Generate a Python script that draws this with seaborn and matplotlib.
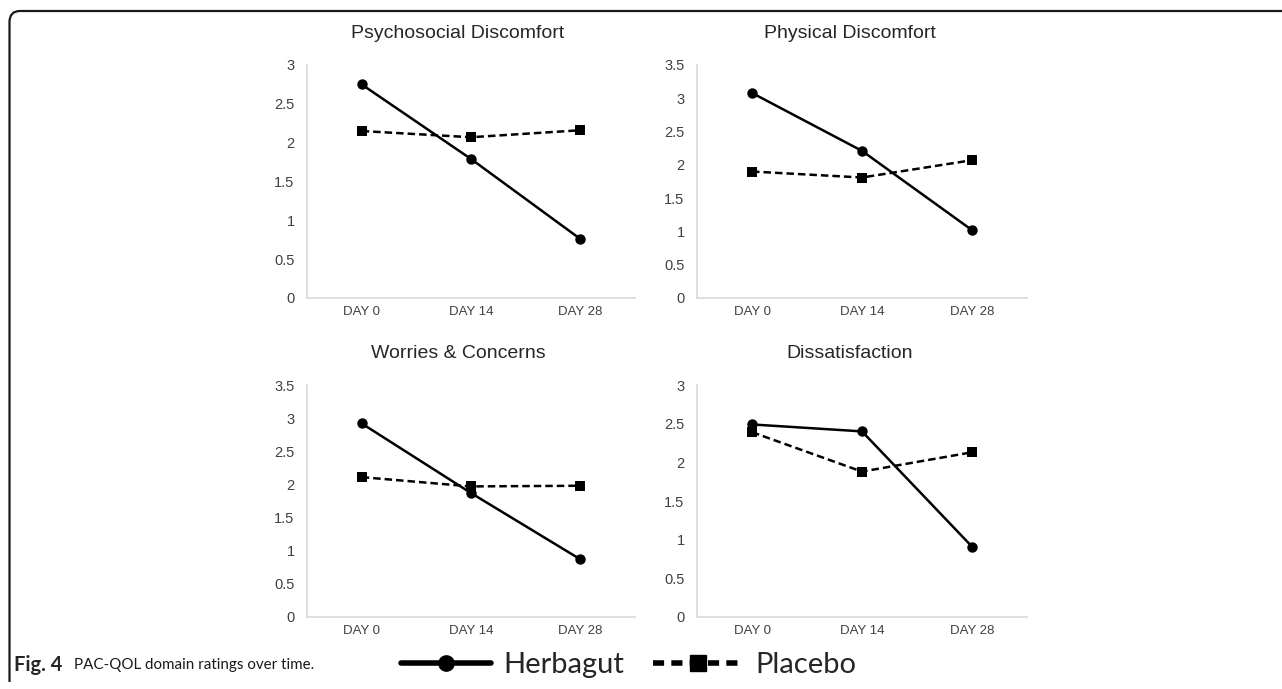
import numpy as np
import pandas as pd
import matplotlib
matplotlib.use("Agg")
import matplotlib.pyplot as plt
import seaborn as sns
from matplotlib.lines import Line2D
from matplotlib.path import Path
from matplotlib.patches import PathPatch

# ---------------- data ----------------
days = ["DAY 0", "DAY 14", "DAY 28"]
groups = ["Herbagut", "Placebo"]
titles = ["Psychosocial Discomfort", "Physical Discomfort",
          "Worries & Concerns", "Dissatisfaction"]
herbagut = {
    "Psychosocial Discomfort": [2.75, 1.79, 0.76],
    "Physical Discomfort": [3.08, 2.21, 1.02],
    "Worries & Concerns": [2.92, 1.87, 0.87],
    "Dissatisfaction": [2.49, 2.40, 0.91],
}
placebo = {
    "Psychosocial Discomfort": [2.15, 2.07, 2.16],
    "Physical Discomfort": [1.90, 1.81, 2.07],
    "Worries & Concerns": [2.11, 1.97, 1.98],
    "Dissatisfaction": [2.39, 1.88, 2.13],
}
y_max = {
    "Psychosocial Discomfort": 3.0,
    "Physical Discomfort": 3.5,
    "Worries & Concerns": 3.5,
    "Dissatisfaction": 3.0,
}
caption_bold = "Fig. 4"
caption_text = "PAC-QOL domain ratings over time."

# ---------------- figure ----------------
sns.set_theme(style="white")
plt.rcParams["font.family"] = ["Liberation Sans", "DejaVu Sans"]

W, H = 1282, 689
fig = plt.figure(figsize=(W / 100, H / 100), dpi=100)

def fx(px):
    return px / W

def fy(py):
    return 1 - py / H

# axes rectangles in pixel coords: (left, top, right, bottom)
rects = [
    (307, 65, 635, 298),
    (697, 65, 1027, 298),
    (307, 385, 635, 617),
    (697, 385, 1027, 617),
]
title_pos = [(458, 34), (850, 34), (458, 354), (850, 354)]

pal = {"Herbagut": "black", "Placebo": "black"}
markers = {"Herbagut": "o", "Placebo": "s"}
dashes = {"Herbagut": "", "Placebo": (3, 1.6)}

for title, (l, t, r, b), (tx, ty) in zip(titles, rects, title_pos):
    ax = fig.add_axes([fx(l), fy(b), fx(r) - fx(l), fy(t) - fy(b)])
    df = pd.DataFrame({
        "day": days * 2,
        "value": herbagut[title] + placebo[title],
        "group": ["Herbagut"] * 3 + ["Placebo"] * 3,
    })
    sns.lineplot(data=df, x="day", y="value", hue="group", style="group",
                 palette=pal, markers=markers, dashes=dashes, ax=ax,
                 legend=False, linewidth=1.8, markersize=7.5,
                 markeredgewidth=0, sort=False)
    ax.set_xlim(-0.5, 2.5)
    ym = y_max[title]
    ax.set_ylim(0, ym)
    ticks = np.arange(0, ym + 0.01, 0.5)
    ax.set_yticks(ticks)
    ax.set_yticklabels([("%g" % v) for v in ticks])
    ax.set_xlabel("")
    ax.set_ylabel("")
    for s in ["top", "right"]:
        ax.spines[s].set_visible(False)
    for s in ["left", "bottom"]:
        ax.spines[s].set_color("#d9d9d9")
        ax.spines[s].set_linewidth(1.2)
    ax.tick_params(axis="y", length=0, pad=9, labelsize=10.5, labelcolor="#404040")
    ax.tick_params(axis="x", length=0, pad=6, labelsize=9.5, labelcolor="#404040")
    ax.set_facecolor("none")
    fig.text(fx(tx), fy(ty), title, ha="center", va="center",
             fontsize=14, color="#262626")

# ---------------- border (rounded top-left corner) ----------------
x0, y0 = fx(9.5), fy(11)
rr_x, rr_y = fx(20), fy(22)
verts = [(x0, fy(682)), (x0, rr_y), (x0, y0), (rr_x, y0), (1.0, y0)]
codes = [Path.MOVETO, Path.LINETO, Path.CURVE3, Path.CURVE3, Path.LINETO]
fig.add_artist(PathPatch(Path(verts, codes), transform=fig.transFigure,
                         facecolor="none", edgecolor="#1a1a1a", lw=1.6))

# ---------------- caption + legend ----------------
cap_y = fy(665)
fig.text(fx(14), cap_y, caption_bold, ha="left", va="center",
         fontsize=14.5, fontweight="bold", family=["Lato", "DejaVu Sans"])
fig.text(fx(74), cap_y, caption_text, ha="left", va="center",
         fontsize=10.9, family=["Lato", "DejaVu Sans"], color="#1a1a1a")

handles = [
    Line2D([], [], color="black", lw=4, marker="o", markersize=11),
    Line2D([], [], color="black", lw=4, ls=(0, (2, 1.3)), marker="s", markersize=11),
]
fig.legend(handles, groups, loc="center left", bbox_to_anchor=(fx(401), cap_y),
           ncol=2, frameon=False, handlelength=3.1,
           handletextpad=0.4, columnspacing=1.0, borderaxespad=0,
           borderpad=0, prop={"family": ["Lato", "DejaVu Sans"], "size": 21})

fig.savefig("out.png", dpi=100, facecolor="white")
